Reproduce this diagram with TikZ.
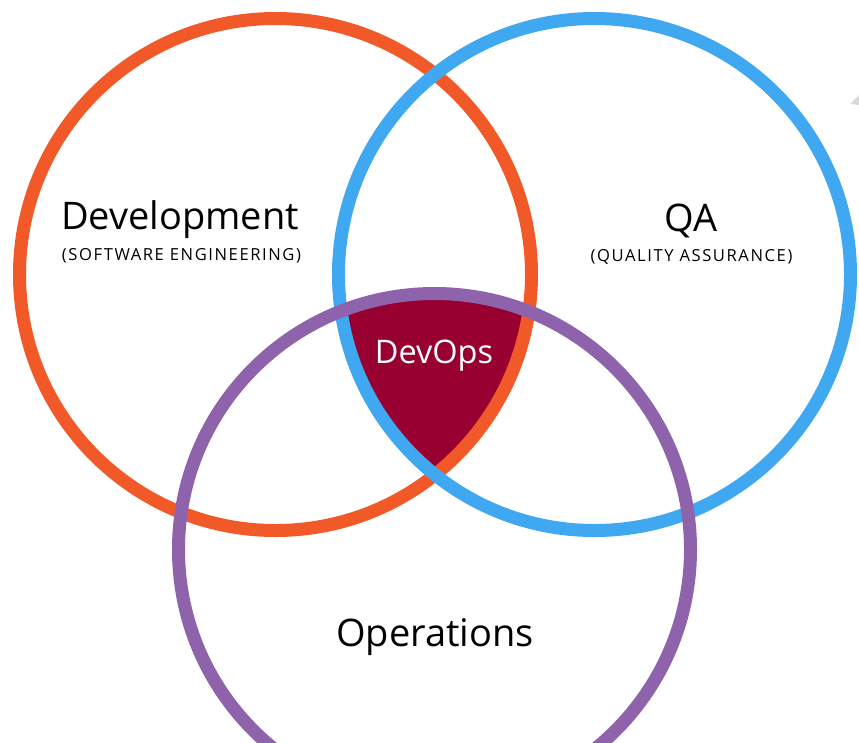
\documentclass[tikz,border=0pt]{standalone}
\usepackage{fontspec}
\setmainfont{Open Sans}
\newfontfamily\subfont[LetterSpace=9.5]{Open Sans}
\definecolor{devorange}{HTML}{F15A28}
\definecolor{qablue}{HTML}{40A8F0}
\definecolor{opspurple}{HTML}{8E63AC}
\definecolor{devopsred}{HTML}{970030}
\definecolor{wedgegray}{HTML}{D8D8D8}
\tikzset{
  ring/.style={line width=13pt},
  bigtxt/.style={font=\fontsize{38}{44}\selectfont, text=black, inner sep=0pt},
  subtxt/.style={font=\subfont\fontsize{16.6}{19}\selectfont, text=black, inner sep=0pt},
}
\begin{document}
\begin{tikzpicture}[x=1pt,y=-1pt]
\useasboundingbox (0,0) rectangle (859,742);
\coordinate (cO) at (275.5,274.5);
\coordinate (cB) at (594.5,274.5);
\coordinate (cP) at (434.5,549.5);
\begin{scope}
  \clip (cO) circle[radius=256pt];
  \clip (cB) circle[radius=256pt];
  \fill[devopsred] (cP) circle[radius=256pt];
\end{scope}
\draw[ring, devorange] (cO) circle[radius=256pt];
\draw[ring, qablue] (cB) circle[radius=256pt];
\draw[ring, opspurple] (cP) circle[radius=256pt];
\fill[wedgegray] (850,104) -- (859,95) -- (859,105) -- cycle;
\node[bigtxt] (dev) at (180,220) {Development};
\node[subtxt] (devsub) at (181.5,255.5) {(SOFTWARE ENGINEERING)};
\node[bigtxt] (qa) at (691,221) {QA};
\node[subtxt] (qasub) at (691.5,256.5) {(QUALITY ASSURANCE)};
\node[font=\fontsize{32.5}{38}\selectfont, text=white, inner sep=0pt] (devops) at (434,356) {DevOps};
\node[bigtxt] (ops) at (435,637) {Operations};
\end{tikzpicture}
\end{document}
